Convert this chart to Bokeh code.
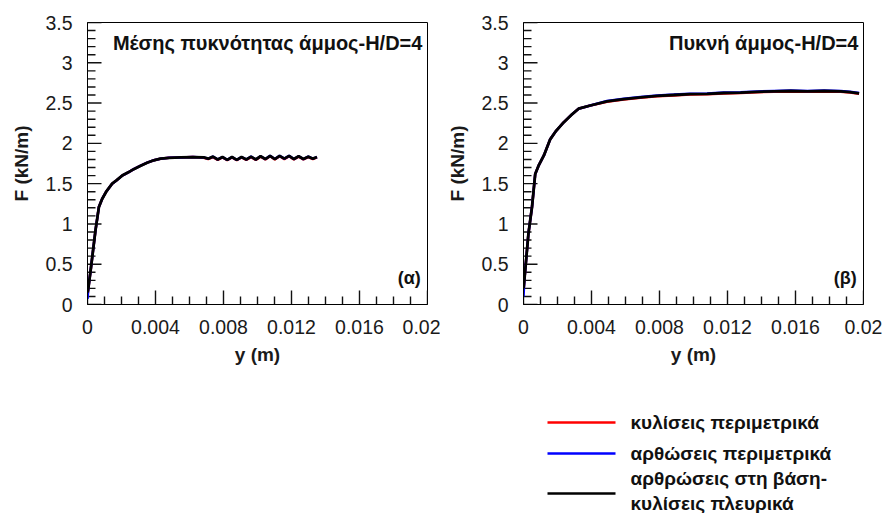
from bokeh.plotting import figure
from bokeh.layouts import column, row
from bokeh.models import FixedTicker, Label, Range1d
from bokeh.core.properties import value
from bokeh.embed import file_html
from bokeh.resources import INLINE

# ---------------- data ----------------
# panel (α): medium-density sand, H/D=4
xa = [0.0, 0.00005, 0.0002, 0.00047, 0.00067, 0.00086, 0.0011, 0.00145, 0.0017,
      0.00204, 0.0024, 0.00272, 0.0031, 0.00351, 0.0039, 0.00429, 0.0048, 0.00547,
      0.0062, 0.00684, 0.0071, 0.00738, 0.00766, 0.00794, 0.00822, 0.0085, 0.00878,
      0.00906, 0.00934, 0.00962, 0.0099, 0.01018, 0.01046, 0.01074, 0.01102, 0.0113,
      0.01158, 0.01186, 0.01214, 0.01242, 0.0127, 0.01298, 0.01326, 0.0135]
fa_black = [0.15, 0.2, 0.45, 0.92, 1.21, 1.31, 1.4, 1.5, 1.54,
            1.6, 1.64, 1.68, 1.72, 1.76, 1.79, 1.81, 1.82, 1.825,
            1.83, 1.825, 1.81, 1.835, 1.8, 1.83, 1.795, 1.83, 1.795,
            1.83, 1.8, 1.835, 1.8, 1.84, 1.805, 1.845, 1.805, 1.845,
            1.81, 1.845, 1.805, 1.84, 1.805, 1.835, 1.81, 1.83]
fa_red = [0.1, 0.2, 0.45, 0.92, 1.21, 1.31, 1.4, 1.5, 1.54,
          1.6, 1.64, 1.68, 1.72, 1.76, 1.79, 1.81, 1.82, 1.825,
          1.83, 1.82, 1.805, 1.83, 1.795, 1.825, 1.79, 1.825, 1.79,
          1.825, 1.795, 1.83, 1.795, 1.835, 1.8, 1.84, 1.8, 1.84,
          1.805, 1.84, 1.8, 1.835, 1.8, 1.83, 1.805, 1.825]
fa_blue = [0.07, 0.2, 0.45, 0.92, 1.21, 1.31, 1.4, 1.5, 1.54,
           1.6, 1.64, 1.68, 1.72, 1.76, 1.79, 1.81, 1.82, 1.825,
           1.83, 1.825, 1.81, 1.835, 1.8, 1.83, 1.795, 1.83, 1.795,
           1.83, 1.8, 1.835, 1.8, 1.84, 1.805, 1.845, 1.805, 1.845,
           1.81, 1.845, 1.805, 1.84, 1.805, 1.835, 1.81, 1.83]

# panel (β): dense sand, H/D=4
xb = [0.0, 0.00005, 0.00029, 0.0005, 0.00069, 0.00088, 0.0012, 0.00157, 0.0019,
      0.00236, 0.0028, 0.00324, 0.00393, 0.00491, 0.0059, 0.00688, 0.00786, 0.00884,
      0.0098, 0.0108, 0.01178, 0.01277, 0.01375, 0.01474, 0.01572, 0.0167, 0.01768,
      0.01866, 0.0192, 0.01974]
fb_black = [0.2, 0.3, 0.88, 1.21, 1.62, 1.72, 1.85, 2.05, 2.15,
            2.26, 2.35, 2.43, 2.47, 2.52, 2.55, 2.57, 2.59, 2.60,
            2.61, 2.615, 2.625, 2.63, 2.64, 2.645, 2.65, 2.645, 2.65,
            2.645, 2.635, 2.62]
fb_red = [0.15, 0.3, 0.88, 1.21, 1.62, 1.72, 1.85, 2.05, 2.15,
          2.26, 2.35, 2.43, 2.47, 2.515, 2.545, 2.565, 2.585, 2.595,
          2.605, 2.61, 2.62, 2.625, 2.635, 2.64, 2.645, 2.64, 2.645,
          2.64, 2.63, 2.615]
fb_blue = [0.1, 0.3, 0.88, 1.21, 1.62, 1.72, 1.85, 2.05, 2.15,
           2.26, 2.35, 2.43, 2.47, 2.525, 2.555, 2.575, 2.595, 2.605,
           2.615, 2.62, 2.63, 2.635, 2.645, 2.65, 2.655, 2.65, 2.655,
           2.65, 2.64, 2.625]

x_ticks = [0, 0.004, 0.008, 0.012, 0.016, 0.02]
x_tick_labels = ["0", "0.004", "0.008", "0.012", "0.016", "0.02"]
x_minor = [0.001, 0.002, 0.003, 0.005, 0.006, 0.007, 0.009, 0.01, 0.011,
           0.013, 0.014, 0.015, 0.017, 0.018, 0.019]
y_ticks = [0, 0.5, 1, 1.5, 2, 2.5, 3, 3.5]
y_tick_labels = ["0", "0.5", "1", "1.5", "2", "2.5", "3", "3.5"]
y_minor = [0.1, 0.2, 0.3, 0.4, 0.6, 0.7, 0.8, 0.9, 1.1, 1.2, 1.3, 1.4,
           1.6, 1.7, 1.8, 1.9, 2.1, 2.2, 2.3, 2.4, 2.6, 2.7, 2.8, 2.9,
           3.1, 3.2, 3.3, 3.4]

series_names = ["κυλίσεις περιμετρικά", "αρθώσεις περιμετρικά",
                "αρθρώσεις στη βάση-\nκυλίσεις πλευρικά"]
series_colors = ["#ff0000", "#0000ff", "#000000"]

FONT = "Liberation Sans"
TXT = "#1a1a1a"
X_END, Y_END = 0.02, 3.5
FRAME_W, FRAME_H = 340, 282
MAJOR_LEN, MINOR_LEN = 14, 8   # inward tick lengths in pixels


def make_panel(width, left, right, xs, ys_list, title, tag):
    p = figure(width=width, height=370, x_range=Range1d(0, X_END), y_range=Range1d(0, Y_END),
               output_backend="svg", toolbar_location=None,
               min_border_left=left, min_border_right=right,
               min_border_top=22, min_border_bottom=66)
    p.xgrid.visible = False
    p.ygrid.visible = False
    p.outline_line_color = "black"
    p.background_fill_color = "white"

    p.xaxis.ticker = FixedTicker(ticks=x_ticks)
    p.yaxis.ticker = FixedTicker(ticks=y_ticks)
    p.xaxis.major_label_overrides = {t: l for t, l in zip(x_ticks, x_tick_labels)}
    p.yaxis.major_label_overrides = {t: l for t, l in zip(y_ticks, y_tick_labels)}

    for ax in (p.xaxis, p.yaxis):
        # default tick lengths kept, axis ticks hidden by colour; inward ticks drawn below
        ax.major_tick_line_color = None
        ax.minor_tick_line_color = None
        ax.major_label_text_font = FONT
        ax.major_label_text_font_size = "19.5px"
        ax.major_label_text_color = TXT
        ax.axis_label_text_font = FONT
        ax.axis_label_text_font_size = "19px"
        ax.axis_label_text_font_style = "bold"
        ax.axis_label_text_color = TXT

    p.xaxis.axis_label = "y (m)"
    p.yaxis.axis_label = "F (kN/m)"
    p.xaxis.major_label_standoff = 9
    p.xaxis.axis_label_standoff = 7
    p.yaxis.major_label_standoff = 9
    p.yaxis.axis_label_standoff = 10

    # inward tick marks (segments; pixel lengths converted to data units)
    dx = X_END / FRAME_W
    dy = Y_END / FRAME_H
    for ticks, ln in ((x_ticks, MAJOR_LEN), (x_minor, MINOR_LEN)):
        p.segment(x0=list(ticks), y0=[0.0] * len(ticks), x1=list(ticks),
                  y1=[ln * dy] * len(ticks), line_color="#111111", line_width=1.4)
    for ticks, ln in ((y_ticks, MAJOR_LEN), (y_minor, MINOR_LEN)):
        p.segment(x0=[0.0] * len(ticks), y0=list(ticks), x1=[ln * dx] * len(ticks),
                  y1=list(ticks), line_color="#111111", line_width=1.4)

    for ys, c in zip(ys_list, series_colors):
        p.line(xs, ys, line_color=c, line_width=2.5 if c != "#000000" else 2.8)

    p.add_layout(Label(x=0.0197, y=3.24, text=title, text_align="right",
                       text_baseline="middle", text_font=FONT, text_font_size="20px",
                       text_font_style="bold", text_color="#111111"))
    p.add_layout(Label(x=0.0196, y=0.33, text=tag, text_align="right",
                       text_baseline="middle", text_font=FONT, text_font_size="18px",
                       text_font_style="bold", text_color="#111111"))
    return p


p1 = make_panel(440, 87, 13, xa, [fa_red, fa_blue, fa_black],
                "Μέσης πυκνότητας άμμος-H/D=4", "(α)")
p2 = make_panel(442, 83, 19, xb, [fb_red, fb_blue, fb_black],
                "Πυκνή άμμος-H/D=4", "(β)")

# legend strip
leg = figure(width=882, height=143, x_range=Range1d(0, 882), y_range=Range1d(143, 0),
             output_backend="svg", toolbar_location=None, min_border=0)
leg.axis.visible = False
leg.xgrid.visible = False
leg.ygrid.visible = False
leg.outline_line_color = None
row_y = [52, 83, 123]
for name, c, yy in zip(series_names, series_colors, row_y):
    leg.segment(x0=[547], y0=[yy], x1=[615], y1=[yy], line_color=c, line_width=2.4)
    lines = name.split("\n")
    ys_t = [yy] if len(lines) == 1 else [yy - 15, yy + 10]
    leg.text(x=[630] * len(lines), y=ys_t, text=lines, text_font=value(FONT),
             text_font_size="19px", text_font_style="bold",
             text_baseline="middle", text_color="#111111")

layout = column(row(p1, p2), leg)
open("out.html", "w").write(file_html(layout, INLINE))
